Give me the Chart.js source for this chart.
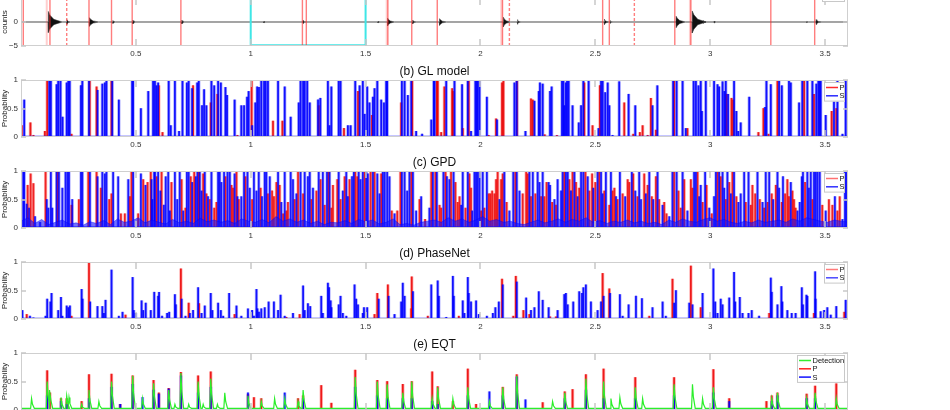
<!DOCTYPE html>
<html>
<head>
<meta charset="utf-8">
<script src="https://cdn.jsdelivr.net/npm/chart.js@4.4.0/dist/chart.umd.min.js"></script>
<style>
  html, body { margin: 0; padding: 0; background: #fff; overflow: hidden; }
  body { width: 950px; height: 410px; position: relative; }
  .panel { position: absolute; left: 0; width: 950px; }
</style>
</head>
<body>
<div class="panel" style="top:-22px;height:84px"><canvas id="wave"></canvas></div>
<div class="panel" style="top:60px;height:93px"><canvas id="gl"></canvas></div>
<div class="panel" style="top:151px;height:93px"><canvas id="gpd"></canvas></div>
<div class="panel" style="top:242px;height:93px"><canvas id="pn"></canvas></div>
<div class="panel" style="top:333px;height:93px"><canvas id="eqt"></canvas></div>
<script>
// x axis (same for every panel)
const xMin = 0, xMax = 3.6;

// (a) waveform bursts: onset, amplitude (counts), duration
const waveT   = [0.119, 0.2, 0.298, 0.4, 0.487, 0.7, 1.057, 1.228, 1.554, 1.596, 1.705, 1.822, 2.1, 2.161, 2.539, 2.565, 2.852, 2.922, 2.97, 3.017, 3.42, 3.461];
const waveAmp = [2.2, 0.5, 0.9, 0.3, 0.4, 0.4, 0.2, 0.3, 0.2, 0.8, 0.4, 0.7, 1.0, 0.5, 0.6, 0.3, 1.2, 2.3, 0.3, 0.2, 0.15, 0.5];
const waveLen = [0.06, 0.015, 0.04, 0.012, 0.012, 0.012, 0.008, 0.015, 0.008, 0.03, 0.015, 0.03, 0.03, 0.015, 0.02, 0.012, 0.04, 0.06, 0.012, 0.01, 0.008, 0.025];
// (a) picks
const picksSolid  = [0.010, 0.126, 0.296, 0.394, 0.484, 0.696, 1.225, 1.242, 1.597, 1.701, 1.812, 2.096, 2.532, 2.561, 2.846, 2.916, 3.264, 3.455];
const picksDashed = [0.199, 2.126, 2.670];
const picksPale   = [0.112, 1.592, 2.091, 2.912];
const zoomBox = [1.0, 1.5];

// (b) GL model  [time, probability]
const glP = [[0.003,0.2],[0.041,0.25],[0.054,0.03],[0.104,0.1],[0.114,1],[0.220,0.05],[0.299,1],[0.329,0.88],[0.394,1],[0.600,0.9],[0.616,0.08],[0.749,0.9],[0.826,0.6],[0.855,0.75],[0.942,0.03],[1.004,0.98],[1.097,0.28],[1.138,0.28],[1.296,0.55],[1.406,0.15],[1.467,0.8],[1.528,0.38],[1.655,0.6],[1.703,1],[1.810,1],[1.814,1],[1.829,0.08],[1.843,0.88],[1.877,0.85],[1.880,0.8],[1.923,0.15],[1.949,1],[2.036,0.03],[2.068,0.32],[2.094,0.95],[2.100,1],[2.159,1],[2.220,0.67],[2.228,0.65],[2.280,0.04],[2.333,0.03],[2.452,0.95],[2.488,0.2],[2.520,0.9],[2.626,0.6],[2.665,0.05],[2.694,0.08],[2.706,0.2],[2.728,0.03],[2.742,0.68],[2.764,0.12],[2.843,1],[2.901,0.15],[3.071,0.75],[3.093,0.68],[3.100,0.65],[3.210,0.08],[3.232,0.5],[3.254,0.05],[3.293,1],[3.409,1],[3.452,0.75],[3.529,0.45],[3.549,0.5]];
const glS = [[0.014,0.65],[0.123,1],[0.130,1],[0.155,0.92],[0.162,1],[0.172,1],[0.181,0.35],[0.199,0.95],[0.206,1],[0.212,1],[0.261,0.9],[0.267,1],[0.296,1],[0.333,0.82],[0.354,0.93],[0.365,0.95],[0.372,1],[0.397,1],[0.426,0.65],[0.484,1],[0.488,1],[0.522,0.5],[0.554,0.8],[0.575,1],[0.583,1],[0.590,0.9],[0.597,0.95],[0.643,1],[0.652,0.2],[0.670,1],[0.688,0.1],[0.703,1],[0.722,0.95],[0.730,1],[0.745,0.85],[0.767,0.95],[0.774,1],[0.788,0.55],[0.797,0.83],[0.807,0.55],[0.829,1],[0.841,0.9],[0.858,0.98],[0.870,0.95],[0.890,0.87],[0.897,0.73],[0.930,0.65],[0.959,0.55],[0.971,0.55],[0.984,0.7],[0.991,0.8],[1.006,0.2],[1.020,0.6],[1.028,0.88],[1.036,0.87],[1.046,1],[1.058,1],[1.065,1],[1.075,1],[1.119,1],[1.148,0.88],[1.174,0.35],[1.209,0.6],[1.217,1],[1.228,1],[1.235,1],[1.246,1],[1.257,0.6],[1.293,0.65],[1.303,0.68],[1.336,1],[1.343,0.2],[1.351,0.88],[1.383,1],[1.391,1],[1.423,0.2],[1.435,0.2],[1.455,1],[1.474,0.9],[1.488,1],[1.496,0.4],[1.507,0.88],[1.517,0.6],[1.532,0.7],[1.539,0.85],[1.551,1],[1.568,0.65],[1.580,0.6],[1.590,1],[1.594,1],[1.658,1],[1.670,1],[1.684,0.73],[1.699,1],[1.720,0.1],[1.746,0.05],[1.786,0.3],[1.797,1],[1.800,1],[1.851,1],[1.887,1],[1.920,0.92],[1.945,1],[1.959,0.1],[1.978,1],[1.984,1],[1.988,1],[1.996,1],[2.028,0.7],[2.072,0.3],[2.148,0.95],[2.158,1],[2.196,0.1],[2.235,0.63],[2.254,0.8],[2.259,0.95],[2.271,0.93],[2.303,0.8],[2.310,0.88],[2.355,1],[2.361,1],[2.365,0.55],[2.372,0.95],[2.377,1],[2.384,1],[2.401,0.55],[2.428,0.25],[2.438,0.55],[2.448,1],[2.471,1],[2.514,0.15],[2.525,1],[2.532,1],[2.543,0.78],[2.554,0.95],[2.561,0.55],[2.575,0.03],[2.604,0.97],[2.645,0.75],[2.674,0.55],[2.749,0.55],[2.770,0.9],[2.839,1],[2.854,1],[2.880,1],[2.894,0.15],[2.928,1],[2.938,1],[2.949,0.9],[2.959,1],[2.964,0.45],[2.981,1],[3.017,1],[3.032,0.92],[3.039,0.88],[3.054,0.97],[3.062,0.8],[3.068,1],[3.078,0.75],[3.104,1],[3.114,0.45],[3.122,0.1],[3.133,0.25],[3.170,0.7],[3.239,0.52],[3.245,1],[3.264,0.92],[3.300,1],[3.312,0.9],[3.343,1],[3.351,0.95],[3.387,0.6],[3.401,1],[3.423,1],[3.445,1],[3.462,0.93],[3.471,1],[3.477,1],[3.481,1],[3.503,0.38],[3.539,0.7],[3.554,1],[3.576,0.05],[3.590,1]];

// (c) GPD
const gpdP = [[0.029,0.75],[0.042,0.95],[0.054,0.78],[0.107,1],[0.159,1],[0.220,0.4],[0.252,0.5],[0.293,1],[0.329,1],[0.348,0.7],[0.384,0.5],[0.394,0.6],[0.435,0.25],[0.452,0.25],[0.474,0.55],[0.481,1],[0.510,0.25],[0.532,0.85],[0.551,0.8],[0.565,1],[0.590,0.9],[0.612,1],[0.655,0.8],[0.699,0.85],[0.716,0.35],[0.739,0.9],[0.754,1],[0.774,1],[0.793,0.95],[0.807,0.6],[0.822,0.5],[0.841,0.35],[0.851,0.45],[0.890,0.9],[0.916,0.75],[0.923,0.7],[0.938,1],[0.948,0.5],[0.977,0.9],[1.006,0.5],[1.043,0.7],[1.075,0.6],[1.093,0.65],[1.101,0.55],[1.112,0.8],[1.126,0.75],[1.141,0.25],[1.155,0.3],[1.162,0.45],[1.191,0.5],[1.206,1],[1.228,0.6],[1.264,0.5],[1.286,0.65],[1.304,0.85],[1.322,0.4],[1.339,1],[1.351,0.35],[1.358,0.75],[1.377,0.85],[1.391,0.5],[1.409,0.9],[1.430,0.85],[1.455,1],[1.464,0.9],[1.496,1],[1.522,1],[1.539,1],[1.568,0.95],[1.614,0.3],[1.638,0.3],[1.652,1],[1.699,1],[1.735,0.5],[1.759,0.15],[1.786,1],[1.804,1],[1.822,0.4],[1.829,0.35],[1.848,1],[1.872,1],[1.891,0.8],[1.901,0.45],[1.909,0.55],[1.935,0.35],[1.952,0.95],[1.959,0.7],[2.003,0.3],[2.017,0.35],[2.036,0.6],[2.043,0.6],[2.051,0.65],[2.061,0.6],[2.068,0.85],[2.075,1],[2.090,0.85],[2.097,0.95],[2.114,0.45],[2.152,1],[2.184,0.6],[2.199,1],[2.206,0.95],[2.220,0.55],[2.239,0.6],[2.264,0.55],[2.278,0.55],[2.288,0.8],[2.312,0.45],[2.329,0.4],[2.365,1],[2.387,0.85],[2.401,1],[2.416,0.8],[2.430,0.7],[2.457,1],[2.474,0.65],[2.486,0.95],[2.500,0.8],[2.517,1],[2.539,0.65],[2.561,0.4],[2.575,0.65],[2.583,0.7],[2.597,0.5],[2.619,0.6],[2.641,0.85],[2.648,0.8],[2.665,0.95],[2.684,0.55],[2.713,0.95],[2.728,0.75],[2.746,0.55],[2.764,0.9],[2.778,0.5],[2.800,0.45],[2.810,0.25],[2.843,1],[2.862,0.65],[2.872,0.35],[2.887,0.85],[2.916,0.85],[2.923,0.7],[2.945,1],[2.967,0.45],[2.984,0.75],[3.007,0.25],[3.032,1],[3.046,0.9],[3.068,0.5],[3.083,0.8],[3.097,1],[3.114,0.55],[3.155,0.45],[3.177,0.4],[3.184,0.75],[3.196,0.6],[3.216,0.5],[3.235,0.35],[3.250,0.45],[3.268,0.6],[3.286,0.75],[3.312,0.45],[3.326,0.6],[3.336,0.85],[3.343,0.55],[3.358,0.65],[3.365,0.5],[3.372,0.35],[3.413,0.8],[3.445,0.5],[3.488,0.4],[3.517,0.5],[3.532,0.4],[3.554,0.3],[3.564,0.55]];
const gpdS = [[0.010,1],[0.014,1],[0.025,0.42],[0.035,0.35],[0.061,0.2],[0.083,0.1],[0.112,0.5],[0.119,0.35],[0.130,1],[0.136,0.35],[0.155,1],[0.165,1],[0.180,0.7],[0.194,1],[0.203,0.99],[0.209,1],[0.223,0.5],[0.261,1],[0.267,1],[0.300,1],[0.333,0.9],[0.354,1],[0.365,0.95],[0.372,1],[0.401,1],[0.423,0.9],[0.467,0.85],[0.488,1],[0.522,0.95],[0.542,0.75],[0.568,0.85],[0.572,0.5],[0.580,1],[0.583,1],[0.597,1],[0.607,0.65],[0.622,0.4],[0.630,0.9],[0.641,1],[0.648,0.3],[0.670,1],[0.680,0.5],[0.691,1],[0.706,0.3],[0.722,1],[0.730,1],[0.745,0.8],[0.761,0.9],[0.768,1],[0.778,1],[0.786,0.65],[0.800,1],[0.814,0.55],[0.829,1],[0.858,1],[0.865,1],[0.872,0.8],[0.884,1],[0.899,1],[0.909,1],[0.930,0.95],[0.942,0.55],[0.959,0.55],[0.971,1],[0.986,1],[0.996,0.7],[1.014,1],[1.025,0.65],[1.035,1],[1.049,0.55],[1.061,1],[1.068,1],[1.083,0.9],[1.119,1],[1.133,0.45],[1.148,1],[1.174,1],[1.184,0.85],[1.199,0.6],[1.217,1],[1.235,1],[1.249,0.9],[1.257,1],[1.271,0.7],[1.296,1],[1.314,1],[1.332,1],[1.343,1],[1.383,1],[1.401,0.65],[1.416,1],[1.423,0.55],[1.441,0.9],[1.449,1],[1.470,1],[1.478,0.85],[1.488,1],[1.503,1],[1.510,0.95],[1.532,1],[1.551,0.95],[1.561,0.6],[1.575,1],[1.583,1],[1.594,1],[1.604,0.9],[1.626,0.25],[1.658,1],[1.670,1],[1.681,0.65],[1.691,1],[1.706,1],[1.720,0.3],[1.742,0.55],[1.778,0.35],[1.793,1],[1.810,1],[1.839,1],[1.854,0.9],[1.865,0.85],[1.883,1],[1.916,0.4],[1.923,1],[1.945,1],[1.964,0.3],[1.974,1],[1.981,1],[1.988,1],[1.996,1],[2.010,1],[2.028,1],[2.083,0.5],[2.104,1],[2.126,0.3],[2.143,1],[2.158,1],[2.170,0.65],[2.213,1],[2.228,1],[2.249,1],[2.257,0.8],[2.271,1],[2.297,0.8],[2.303,0.75],[2.322,0.5],[2.336,0.85],[2.351,0.65],[2.358,1],[2.372,1],[2.380,1],[2.394,0.65],[2.409,1],[2.423,0.55],[2.438,1],[2.448,1],[2.467,0.9],[2.491,0.7],[2.510,1],[2.525,1],[2.532,0.6],[2.546,1],[2.568,1],[2.590,0.55],[2.607,1],[2.630,0.55],[2.659,1],[2.674,0.65],[2.691,1],[2.699,0.5],[2.720,0.6],[2.735,1],[2.752,0.5],[2.771,1],[2.793,0.4],[2.822,0.2],[2.836,1],[2.854,1],[2.880,1],[2.901,0.3],[2.930,1],[2.938,1],[2.952,0.55],[2.959,0.75],[2.978,1],[2.996,0.35],[3.017,0.55],[3.025,1],[3.039,1],[3.054,1],[3.061,0.7],[3.075,1],[3.090,0.6],[3.104,1],[3.123,0.45],[3.133,0.6],[3.148,1],[3.167,1],[3.206,1],[3.228,0.45],[3.242,1],[3.257,1],[3.274,0.5],[3.293,1],[3.300,0.7],[3.317,0.9],[3.351,0.8],[3.380,0.3],[3.390,0.45],[3.399,0.9],[3.404,1],[3.423,1],[3.430,0.7],[3.438,1],[3.452,1],[3.459,1],[3.467,1],[3.477,1],[3.503,0.3],[3.543,0.55],[3.576,0.15],[3.587,1],[3.593,1]];
// GPD low-level background, one value every 0.03
const gpdFloorStep = 0.03;
const gpdFloor = [0.12,0.18,0.08,0.15,0.06,0.1,0.14,0.07,0.09,0.05, 0.11,0.08,0.13,0.06,0.16,0.1,0.12,0.18,0.09,0.14, 0.1,0.07,0.15,0.09,0.12,0.08,0.17,0.11,0.14,0.1, 0.13,0.08,0.16,0.12,0.1,0.15,0.09,0.2,0.12,0.16, 0.1,0.14,0.08,0.12,0.06,0.1,0.09,0.13,0.08,0.15, 0.11,0.14,0.07,0.1,0.16,0.06,0.08,0.05,0.1,0.12, 0.14,0.1,0.18,0.12,0.16,0.1,0.14,0.2,0.12,0.15, 0.1,0.12,0.08,0.06,0.1,0.14,0.09,0.12,0.16,0.1, 0.15,0.12,0.18,0.1,0.13,0.08,0.12,0.1,0.14,0.09, 0.12,0.08,0.1,0.06,0.14,0.1,0.16,0.12,0.1,0.15, 0.18,0.12,0.15,0.1,0.08,0.12,0.09,0.14,0.1,0.12, 0.14,0.1,0.16,0.12,0.18,0.15,0.12,0.1,0.14,0.12, 0.1];

// (d) PhaseNet
const pnP = [[0.025,0.08],[0.220,0.05],[0.296,0.99],[0.455,0.07],[0.696,0.88],[0.730,0.28],[0.775,0.27],[0.930,0.08],[1.155,0.03],[1.213,0.08],[1.539,0.08],[1.551,0.45],[1.597,0.6],[1.699,0.18],[1.701,0.74],[1.771,0.05],[1.906,0.05],[2.094,0.7],[2.143,0.05],[2.154,0.75],[2.187,0.15],[2.213,0.08],[2.303,0.04],[2.329,0.04],[2.532,0.8],[2.561,0.53],[2.735,0.05],[2.836,0.7],[2.916,0.93],[2.959,0.2],[3.257,0.1],[3.452,0.1],[3.584,0.12]];
const pnS = [[0.006,0.15],[0.039,0.05],[0.054,0.02],[0.107,0.05],[0.114,0.35],[0.128,0.3],[0.133,0.45],[0.162,0.15],[0.174,0.38],[0.180,0.05],[0.199,0.23],[0.206,0.2],[0.213,0.23],[0.264,0.52],[0.268,0.35],[0.301,0.3],[0.333,0.22],[0.354,0.22],[0.361,0.1],[0.368,0.33],[0.394,0.86],[0.426,0.05],[0.442,0.12],[0.486,0.73],[0.491,0.15],[0.499,0.1],[0.525,0.32],[0.532,0.15],[0.543,0.28],[0.565,0.15],[0.580,0.47],[0.597,0.4],[0.601,0.47],[0.614,0.05],[0.636,0.1],[0.645,0.12],[0.670,0.43],[0.674,0.25],[0.699,0.35],[0.716,0.05],[0.735,0.1],[0.749,0.15],[0.771,0.55],[0.786,0.1],[0.800,0.23],[0.826,0.45],[0.833,0.15],[0.858,0.28],[0.870,0.15],[0.880,0.05],[0.906,0.45],[0.938,0.23],[0.959,0.05],[0.988,0.18],[1.006,0.15],[1.014,0.05],[1.025,0.52],[1.029,0.18],[1.036,0.12],[1.046,0.18],[1.061,0.2],[1.078,0.3],[1.101,0.3],[1.119,0.15],[1.130,0.42],[1.148,0.05],[1.184,0.1],[1.228,0.58],[1.235,0.15],[1.249,0.27],[1.259,0.22],[1.307,0.4],[1.314,0.1],[1.336,0.63],[1.341,0.55],[1.348,0.32],[1.351,0.2],[1.383,0.25],[1.391,0.4],[1.401,0.1],[1.416,0.05],[1.452,0.6],[1.459,0.35],[1.467,0.25],[1.488,0.1],[1.493,0.2],[1.507,0.2],[1.557,0.35],[1.600,0.4],[1.626,0.08],[1.655,0.3],[1.662,0.63],[1.670,0.4],[1.706,0.48],[1.786,0.6],[1.814,0.67],[1.819,0.4],[1.851,0.03],[1.880,0.75],[1.884,0.4],[1.923,0.32],[1.930,0.1],[1.945,0.73],[1.949,0.45],[1.959,0.3],[1.981,0.32],[1.993,0.08],[2.028,0.05],[2.054,0.1],[2.065,0.2],[2.080,0.3],[2.097,0.6],[2.158,0.65],[2.199,0.37],[2.220,0.15],[2.235,0.2],[2.254,0.48],[2.271,0.33],[2.297,0.2],[2.336,0.15],[2.365,0.43],[2.372,0.45],[2.380,0.25],[2.404,0.3],[2.430,0.48],[2.442,0.45],[2.448,0.55],[2.459,0.6],[2.481,0.3],[2.510,0.15],[2.525,0.3],[2.536,0.4],[2.564,0.45],[2.607,0.43],[2.619,0.05],[2.645,0.25],[2.677,0.4],[2.703,0.36],[2.749,0.2],[2.793,0.3],[2.807,0.05],[2.843,0.28],[2.851,0.5],[2.909,0.28],[2.923,0.25],[2.967,0.45],[3.014,0.88],[3.022,0.3],[3.032,0.1],[3.046,0.35],[3.054,0.25],[3.083,0.37],[3.104,0.82],[3.109,0.3],[3.129,0.38],[3.141,0.1],[3.167,0.1],[3.181,0.15],[3.213,0.05],[3.264,0.72],[3.268,0.47],[3.293,0.25],[3.310,0.57],[3.314,0.3],[3.336,0.15],[3.355,0.1],[3.372,0.1],[3.399,0.55],[3.404,0.25],[3.419,0.42],[3.423,0.4],[3.457,0.83],[3.459,0.35],[3.481,0.13],[3.496,0.15],[3.510,0.2],[3.525,0.07],[3.549,0.22],[3.590,0.33]];

// (e) EQT
const eqP = [[0.114,0.69],[0.126,0.3],[0.174,0.2],[0.199,0.2],[0.264,0.15],[0.296,0.62],[0.394,0.63],[0.432,0.1],[0.486,0.6],[0.577,0.52],[0.600,0.3],[0.643,0.38],[0.696,0.66],[0.771,0.6],[0.826,0.67],[0.988,0.27],[1.014,0.22],[1.046,0.2],[1.206,0.2],[1.228,0.25],[1.307,0.43],[1.351,0.12],[1.455,0.7],[1.551,0.52],[1.594,0.5],[1.662,0.45],[1.701,0.5],[1.790,0.67],[1.814,0.41],[1.880,0.15],[1.945,0.72],[1.981,0.1],[2.097,0.4],[2.158,0.62],[2.271,0.13],[2.367,0.32],[2.401,0.36],[2.459,0.62],[2.536,0.72],[2.674,0.57],[2.843,0.57],[3.014,0.71],[3.083,0.2],[3.245,0.15],[3.268,0.25],[3.293,0.3],[3.420,0.28],[3.457,0.42],[3.549,0.46]];
const eqS = [[0.114,0.25],[0.174,0.15],[0.199,0.1],[0.296,0.2],[0.394,0.4],[0.432,0.1],[0.486,0.45],[0.529,0.22],[0.577,0.35],[0.600,0.28],[0.643,0.37],[0.696,0.6],[0.771,0.3],[0.826,0.4],[0.988,0.3],[1.148,0.3],[1.228,0.2],[1.455,0.4],[1.551,0.25],[1.594,0.2],[1.662,0.2],[1.701,0.2],[1.790,0.15],[1.814,0.1],[1.945,0.25],[2.039,0.32],[2.097,0.25],[2.158,0.58],[2.196,0.18],[2.367,0.2],[2.459,0.35],[2.536,0.2],[2.674,0.2],[2.843,0.25],[3.014,0.3],[3.083,0.15],[3.268,0.15],[3.293,0.25],[3.420,0.2],[3.457,0.2]];
const eqDet = [[0.046,0.2],[0.114,0.5],[0.126,0.35],[0.174,0.22],[0.199,0.25],[0.209,0.22],[0.264,0.1],[0.296,0.35],[0.339,0.15],[0.394,0.5],[0.486,0.6],[0.529,0.2],[0.577,0.47],[0.643,0.35],[0.670,0.1],[0.696,0.65],[0.730,0.1],[0.771,0.5],[0.793,0.1],[0.826,0.55],[0.855,0.1],[0.887,0.3],[0.988,0.25],[1.046,0.15],[1.104,0.2],[1.148,0.2],[1.206,0.15],[1.228,0.35],[1.455,0.58],[1.551,0.5],[1.594,0.45],[1.662,0.3],[1.701,0.5],[1.790,0.2],[1.814,0.4],[1.880,0.2],[1.945,0.4],[2.039,0.15],[2.097,0.4],[2.158,0.6],[2.314,0.15],[2.367,0.3],[2.459,0.55],[2.536,0.5],[2.568,0.2],[2.607,0.22],[2.674,0.4],[2.706,0.2],[2.843,0.45],[2.923,0.45],[2.967,0.2],[3.014,0.4],[3.268,0.2],[3.293,0.3],[3.420,0.2],[3.457,0.3],[3.549,0.2]];
const detFloor = 0.03;

Chart.defaults.font.family = '"Liberation Sans", Arial, sans-serif';
Chart.defaults.font.size = 8;
Chart.defaults.color = '#333';

// frame, inner tick marks, panel title and legend box
const deco = {
  id: 'deco',
  afterDatasetsDraw(chart, args, o) {
    const {ctx, chartArea: a, scales} = chart;
    ctx.save();
    ctx.strokeStyle = '#cfcfcf';
    ctx.lineWidth = 1;
    ctx.strokeRect(a.left + 0.5, a.top + 0.5, a.right - a.left - 1, a.bottom - a.top - 1);
    ctx.strokeStyle = '#c8c8c8';
    ctx.lineWidth = 1.5;
    scales.x.ticks.forEach(t => {
      const px = Math.round(scales.x.getPixelForValue(t.value));
      if (px <= a.left + 1) return;
      ctx.beginPath();
      ctx.moveTo(px, a.bottom); ctx.lineTo(px, a.bottom - 7);
      ctx.moveTo(px, a.top); ctx.lineTo(px, a.top + 7);
      ctx.stroke();
    });
    scales.y.ticks.forEach(t => {
      const py = Math.round(scales.y.getPixelForValue(t.value));
      ctx.beginPath();
      ctx.moveTo(a.left, py); ctx.lineTo(a.left + 5, py);
      ctx.moveTo(a.right, py); ctx.lineTo(a.right - 5, py);
      ctx.stroke();
    });
    if (o.title) {
      ctx.fillStyle = '#111';
      ctx.font = '12px "Liberation Sans", Arial, sans-serif';
      ctx.textAlign = 'center';
      ctx.textBaseline = 'middle';
      ctx.fillText(o.title, (a.left + a.right) / 2, a.top - 8.5);
    }
    if (o.stub) {
      ctx.fillStyle = '#fff';
      ctx.strokeStyle = '#c8c8c8';
      ctx.lineWidth = 1;
      ctx.fillRect(a.right - 26, a.top - 20, 23, 23.5);
      ctx.strokeRect(a.right - 25.5, a.top - 20, 22, 23.5);
    }
    if (o.items) {
      const w = o.legendW, h = o.items.length * 8.3 + 3;
      const lx = a.right - 3 - w, ly = a.top + 2;
      ctx.fillStyle = '#fff';
      ctx.fillRect(lx, ly, w, h);
      ctx.strokeStyle = '#c8c8c8';
      ctx.lineWidth = 1;
      ctx.strokeRect(lx + 0.5, ly + 0.5, w - 1, h - 1);
      ctx.font = '7.5px "Liberation Sans", Arial, sans-serif';
      ctx.textAlign = 'left';
      ctx.textBaseline = 'middle';
      o.items.forEach((it, i) => {
        const cy = ly + 5.5 + i * 8.3;
        ctx.strokeStyle = it[1];
        ctx.lineWidth = 1.5;
        ctx.beginPath(); ctx.moveTo(lx + 2, cy); ctx.lineTo(lx + 14, cy); ctx.stroke();
        ctx.fillStyle = '#111';
        ctx.fillText(it[0], lx + 15.5, cy + 0.5);
      });
    }
    ctx.restore();
  }
};

function xAxis() {
  return {
    type: 'linear', min: xMin, max: xMax, offset: false,
    grid: {display: false, drawTicks: false}, border: {display: false},
    ticks: {stepSize: 0.5, includeBounds: false, padding: 3, maxRotation: 0, autoSkip: false,
      callback: v => v === 0 ? '' : v},
    afterFit: s => { s.height = 16; }
  };
}
function yAxis(min, max, step, title) {
  return {
    min, max, grid: {display: false, drawTicks: false}, border: {display: false},
    ticks: {stepSize: step, padding: 3, callback: v => String(v).replace('-', '\u2212')},
    title: {display: true, text: title, padding: 0, color: '#222', font: {size: 8}},
    afterFit: s => { s.width = 21; }
  };
}
// thin dark core bar
function spikes(pairs, color) {
  return {type: 'bar', data: pairs.map(p => ({x: p[0], y: p[1]})),
    backgroundColor: color, borderWidth: 0, barThickness: 1.1, grouped: false};
}
// wider pale bar drawn behind the core
function halo(pairs, color) {
  return {type: 'bar', data: pairs.map(p => ({x: p[0], y: p[1]})),
    backgroundColor: color, borderWidth: 0, barThickness: 2.6, grouped: false};
}
function baseline(color, w) {
  return {type: 'line', data: [{x: xMin, y: 0}, {x: xMax, y: 0}],
    borderColor: color, borderWidth: w || 2.5, pointRadius: 0};
}
function vlines(ts, lo, hi) {
  const out = [];
  ts.forEach(t => out.push({x: t, y: lo}, {x: t, y: hi}, {x: t, y: null}));
  return out;
}
function common(deco_opts, yopts) {
  return {
    responsive: true, maintainAspectRatio: false, animation: false,
    layout: {padding: {top: 20, right: 102, bottom: 0, left: 0}},
    plugins: {legend: {display: false}, tooltip: {enabled: false}, deco: deco_opts},
    scales: {x: xAxis(), y: yopts}
  };
}

// (a) waveform envelope
const envUp = [{x: xMin, y: 0.02}];
waveT.forEach((t, i) => {
  const amp = waveAmp[i], d = waveLen[i];
  envUp.push({x: t - 0.001, y: 0.02}, {x: t, y: amp}, {x: t + d * 0.12, y: amp * 0.65},
    {x: t + d * 0.4, y: amp * 0.25}, {x: t + d, y: 0.02});
});
envUp.push({x: xMax, y: 0.02});
const envDown = envUp.map(p => ({x: p.x, y: -p.y}));

new Chart(document.getElementById('wave'), {
  type: 'line',
  data: {datasets: [
    {data: vlines(picksSolid, -5, 5), borderColor: 'rgba(255,40,40,0.6)', borderWidth: 1.4, pointRadius: 0},
    {data: vlines(picksDashed, -5, 5), borderColor: 'rgba(255,40,40,0.6)', borderWidth: 1.4, borderDash: [3, 2], pointRadius: 0},
    {data: vlines(picksPale, -5, 5), borderColor: 'rgba(255,60,60,0.25)', borderWidth: 2, pointRadius: 0},
    {data: [{x: zoomBox[0], y: 6}, {x: zoomBox[0], y: -4.85}, {x: zoomBox[1], y: -4.85}, {x: zoomBox[1], y: 6}],
      borderColor: '#3fe6e6', borderWidth: 2, pointRadius: 0},
    {data: envUp, borderColor: '#333', borderWidth: 0.5, backgroundColor: '#111', fill: 'origin', pointRadius: 0},
    {data: envDown, borderColor: '#333', borderWidth: 0.5, backgroundColor: '#111', fill: 'origin', pointRadius: 0}
  ]},
  options: common({stub: true}, yAxis(-5, 5, 5, 'counts')),
  plugins: [deco]
});

new Chart(document.getElementById('gl'), {
  type: 'bar',
  data: {datasets: [baseline('#1a1aff'),
    spikes(glS, 'rgba(0,0,255,0.9)'), spikes(glP, 'rgba(230,0,0,0.85)'),
    halo(glS, 'rgba(70,70,255,0.45)'), halo(glP, 'rgba(255,60,60,0.4)')]},
  options: common({title: '(b) GL model', items: [['P', '#ff2a2a'], ['S', '#2a2aff']], legendW: 21}, yAxis(0, 1, 0.5, 'Probability')),
  plugins: [deco]
});

new Chart(document.getElementById('gpd'), {
  type: 'bar',
  data: {datasets: [
    baseline('#1010ff', 3),
    {type: 'line', data: gpdFloor.map((v, i) => ({x: i * gpdFloorStep, y: v})), borderColor: 'rgba(0,0,255,0.6)',
      borderWidth: 0.7, backgroundColor: 'rgba(20,20,255,0.6)', fill: 'origin', pointRadius: 0, tension: 0},
    spikes(gpdS, 'rgba(0,0,255,0.85)'), spikes(gpdP, 'rgba(235,0,0,0.8)'),
    halo(gpdS, 'rgba(70,70,255,0.4)'), halo(gpdP, 'rgba(255,70,70,0.4)')]},
  options: common({title: '(c) GPD', items: [['P', '#ff7070'], ['S', '#3030ff']], legendW: 21}, yAxis(0, 1, 0.5, 'Probability')),
  plugins: [deco]
});

new Chart(document.getElementById('pn'), {
  type: 'bar',
  data: {datasets: [baseline('#1a1aff'),
    spikes(pnS, 'rgba(0,0,255,0.9)'), spikes(pnP, 'rgba(235,0,0,0.85)'),
    halo(pnS, 'rgba(90,90,255,0.45)'), halo(pnP, 'rgba(255,80,80,0.45)')]},
  options: common({title: '(d) PhaseNet', items: [['P', '#ff7a7a'], ['S', '#4a4aff']], legendW: 21}, yAxis(0, 1, 0.5, 'Probability')),
  plugins: [deco]
});

// detection curve: floor level with a peak at each listed detection
const detLine = [{x: xMin, y: detFloor}];
eqDet.forEach(p => {
  detLine.push({x: p[0] - 0.004, y: detFloor}, {x: p[0], y: p[1]}, {x: p[0] + 0.004, y: p[1] * 0.5}, {x: p[0] + 0.012, y: detFloor});
});
detLine.push({x: xMax, y: detFloor});

new Chart(document.getElementById('eqt'), {
  type: 'bar',
  data: {datasets: [
    {type: 'line', data: detLine, borderColor: '#2bee2b', borderWidth: 1.2, pointRadius: 0, tension: 0},
    spikes(eqS, 'rgba(0,0,255,0.9)'), spikes(eqP, 'rgba(235,0,0,0.85)'),
    halo(eqS, 'rgba(80,80,255,0.4)'), halo(eqP, 'rgba(255,70,70,0.45)')]},
  options: common({title: '(e) EQT', items: [['Detection', '#33ee33'], ['P', '#ff2020'], ['S', '#1010ff']], legendW: 48}, yAxis(0, 1, 0.5, 'Probability')),
  plugins: [deco]
});
</script>
</body>
</html>
